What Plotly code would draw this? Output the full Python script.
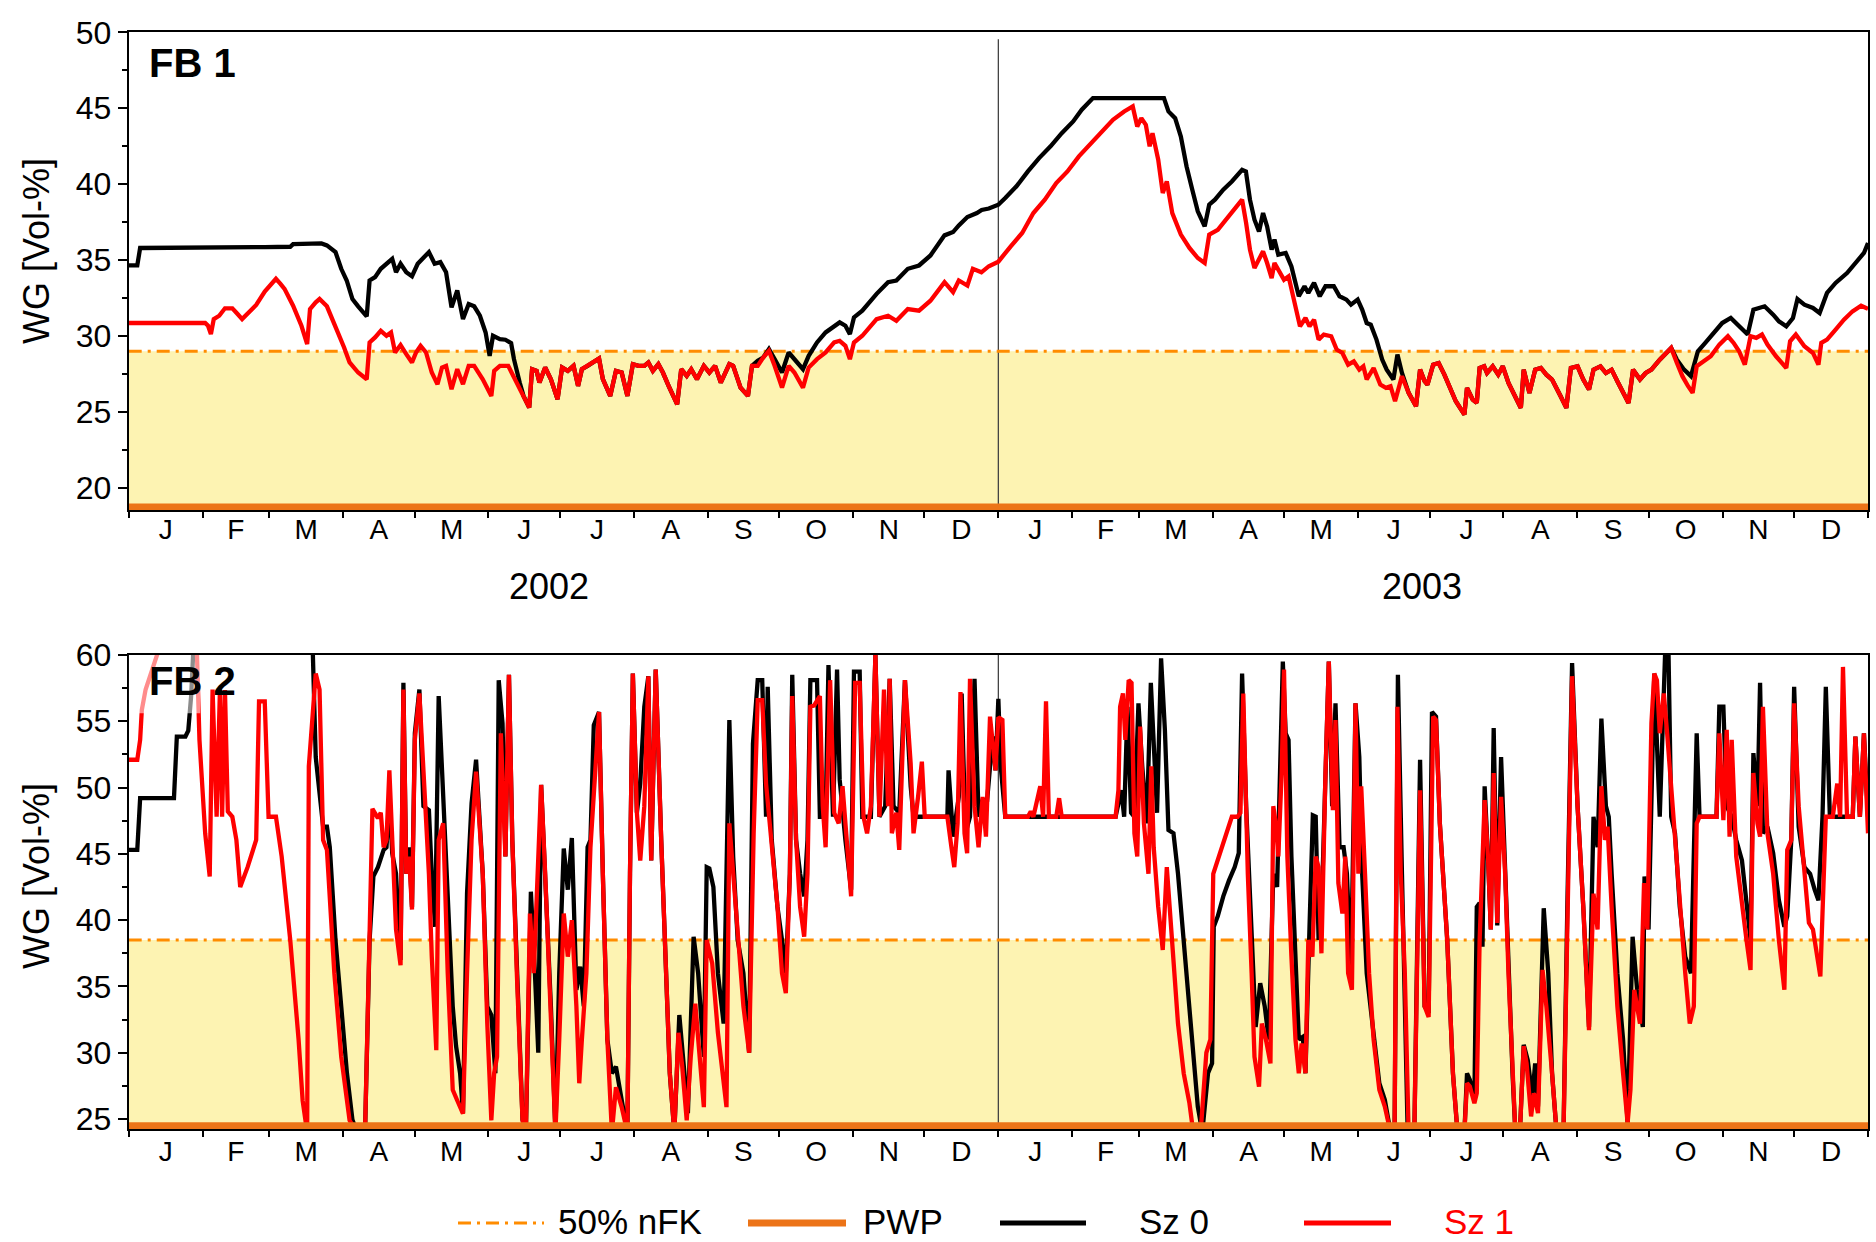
import plotly.graph_objects as go

# ---------------------------------------------------------------
# Soil water content (WG, Vol-%) for two soil profiles, 2002-2003
# x = day counted from 1 Jan 2002, y = WG [Vol-%]
# ---------------------------------------------------------------

MONTH_LETTERS = ["J", "F", "M", "A", "M", "J", "J", "A", "S", "O", "N", "D"]
MONTH_LENGTHS = [31, 28, 31, 30, 31, 30, 31, 31, 30, 31, 30, 31]
YEAR_LABELS = ["2002", "2003"]
PANEL_LABELS = ["FB 1", "FB 2"]
Y_TITLE = "WG [Vol-%]"
LEGEND_LABELS = ["50% nFK", "PWP", "Sz 0", "Sz 1"]

# thresholds per profile
FB1_PWP = 18.75
FB1_NFK50 = 29.0
FB2_PWP = 24.5
FB2_NFK50 = 38.5

# ---------------- FB 1 ----------------
fb1_sz0_spring02 = [
    (0, 34.65), (3.6, 34.65), (4.8, 35.8), (55.9, 35.8), (57.0, 35.86), (67.8, 35.88),
    (69.0, 36.05), (80.9, 36.1), (83.2, 35.97), (86.8, 35.53), (89.2, 34.43), (91.5, 33.66),
    (93.9, 32.44), (96.3, 31.96), (99.9, 31.3), (101.1, 33.66), (103.4, 33.88), (105.8, 34.43),
    (109.4, 34.98), (110.6, 35.09), (112.2, 34.2), (114.1, 34.76), (116.5, 34.2), (118.9, 33.94),
    (121.3, 34.76), (126.0, 35.53), (128.4, 34.76), (130.8, 34.87), (133.2, 34.2), (135.5, 31.89),
    (137.9, 33.0), (140.3, 31.12), (142.7, 32.11), (145.0, 31.96), (147.4, 31.34), (149.8, 30.24),
    (151.5, 28.7), (152.9, 30.02), (155.8, 29.8), (158.1, 29.76), (160.5, 29.54), (161.7, 28.48),
    (164.1, 26.94), (165.7, 26.06), (168.1, 25.29),
]
fb1_sz1_spring02 = [
    (0, 30.86), (32.1, 30.86), (33.3, 30.68), (34.5, 30.13), (35.7, 31.12), (38.0, 31.34),
    (40.4, 31.83), (43.5, 31.83), (45.7, 31.45), (47.6, 31.12), (51.1, 31.67), (53.5, 32.05),
    (57.1, 32.93), (59.4, 33.33), (61.8, 33.77), (63.7, 33.44), (65.4, 33.11), (69.0, 32.0),
    (72.5, 30.68), (74.9, 29.47), (76.1, 31.78), (78.5, 32.22), (80.1, 32.44), (83.2, 31.96),
    (86.8, 30.68), (90.4, 29.25), (92.7, 28.26), (96.3, 27.6), (99.9, 27.16), (101.1, 29.58),
    (103.4, 29.91), (105.8, 30.35), (108.2, 30.02), (110.1, 30.24), (111.8, 28.92), (114.1, 29.41),
    (116.5, 28.81), (118.9, 28.26), (120.6, 28.92), (122.5, 29.36), (124.8, 28.92), (127.2, 27.6),
    (129.6, 26.83), (131.5, 27.93), (133.2, 28.04), (135.5, 26.5), (137.9, 27.82), (140.3, 26.83),
    (142.7, 28.04), (145.0, 28.04), (148.6, 27.16), (152.2, 26.06), (153.4, 27.71), (155.8, 28.04),
    (159.3, 28.04), (162.9, 26.94), (165.7, 26.06), (168.1, 25.29),
]
# summer 2002: both scenarios coincide
fb1_both_summer02 = [
    (169.3, 27.82), (171.2, 27.71), (172.4, 26.94), (174.8, 27.93), (177.2, 27.16), (180.0, 25.84),
    (181.9, 27.93), (184.3, 27.71), (186.7, 28.04), (188.6, 26.72), (190.2, 27.82), (192.6, 28.04),
    (195.0, 28.26), (197.4, 28.52), (199.0, 27.16), (202.1, 26.06), (204.5, 27.71), (206.9, 27.6),
    (209.3, 26.06), (211.6, 28.15), (214.0, 28.04), (216.4, 28.04), (218.1, 28.26), (220.0, 27.71),
    (222.3, 28.15), (224.2, 27.6), (226.6, 26.72), (230.2, 25.51), (231.9, 27.82), (234.2, 27.38),
    (236.1, 27.82), (238.5, 27.16), (241.4, 28.04), (243.7, 27.6), (246.1, 28.04), (248.5, 26.94),
    (252.1, 28.15), (253.7, 28.04), (256.8, 26.61), (259.9, 26.06), (261.6, 28.04),
]
fb1_sz0_autumn02 = [
    (264.0, 28.37), (266.3, 28.59), (268.7, 29.14), (271.1, 28.48), (274.2, 27.6), (277.0, 28.92),
    (279.4, 28.48), (283.0, 27.82), (285.4, 28.7), (288.9, 29.58), (292.5, 30.24), (296.1, 30.68),
    (298.4, 30.9), (300.8, 30.68), (302.7, 30.13), (304.4, 31.23), (307.9, 31.67), (313.9, 32.78),
    (318.7, 33.55), (322.2, 33.66), (327.0, 34.43), (331.7, 34.65), (336.5, 35.31), (342.4, 36.63),
    (346.0, 36.85), (348.4, 37.29), (352.0, 37.84), (356.0, 38.1), (358.0, 38.3), (361.0, 38.4),
    (365.0, 38.65),
]
fb1_sz1_autumn02 = [
    (264.0, 28.04), (266.3, 28.59), (268.7, 29.03), (271.1, 28.04), (274.2, 26.61), (277.0, 28.04),
    (279.4, 27.6), (283.0, 26.61), (285.4, 27.93), (288.9, 28.48), (292.5, 28.92), (296.1, 29.58),
    (298.4, 29.69), (300.8, 29.36), (302.7, 28.48), (304.4, 29.58), (307.9, 30.02), (313.9, 31.12),
    (318.7, 31.34), (322.2, 31.01), (327.0, 31.78), (331.7, 31.67), (336.5, 32.33), (342.4, 33.55),
    (346.0, 32.89), (348.4, 33.66), (352.0, 33.33), (354.3, 34.43), (357.9, 34.2), (361.0, 34.6),
    (365.0, 34.9),
]
fb1_sz0_spring03 = [
    (367.9, 39.09), (372.6, 39.86), (377.4, 40.84), (382.1, 41.72), (386.9, 42.49),
    (391.6, 43.36), (396.4, 44.13), (400.0, 44.9), (404.7, 45.67), (434.5, 45.67), (436.4, 44.79),
    (439.2, 44.35), (441.6, 43.14), (444.0, 41.17), (446.4, 39.64), (448.7, 38.21), (451.6, 37.22),
    (453.5, 38.65), (455.9, 38.98), (459.4, 39.64), (463.0, 40.18), (467.3, 40.95), (468.9, 40.84),
    (470.6, 38.98), (472.5, 37.66), (474.4, 36.89), (476.1, 38.1), (477.8, 37.22), (479.7, 35.69),
    (480.9, 36.35), (482.5, 35.36), (485.6, 35.47), (488.0, 34.59), (491.1, 32.62), (493.5, 33.28),
    (495.1, 32.84), (497.5, 33.5), (499.9, 32.62), (502.3, 33.28), (505.8, 33.28), (508.2, 32.62),
    (511.1, 32.4), (513.0, 32.07), (515.8, 32.4), (517.7, 31.74), (519.6, 30.86), (521.3, 30.75),
    (523.7, 29.77), (526.1, 28.45), (528.0, 27.79), (530.8, 27.14), (532.5, 28.78), (534.4, 27.57),
]
fb1_sz1_spring03 = [
    (370.2, 35.91), (375.0, 36.79), (379.7, 38.1), (384.5, 38.98), (389.3, 40.07),
    (394.0, 40.84), (398.8, 41.83), (403.5, 42.6), (408.3, 43.47), (413.1, 44.24), (417.8, 44.79),
    (421.4, 45.12), (423.3, 43.8), (425.0, 44.35), (426.9, 43.91), (428.5, 42.49), (429.7, 43.36),
    (432.1, 41.61), (434.0, 39.42), (435.7, 40.18), (438.0, 38.1), (441.6, 36.68), (445.2, 35.8),
    (448.7, 35.14), (451.6, 34.81), (453.5, 36.68), (457.1, 37.0), (460.6, 37.66), (464.2, 38.32),
    (467.3, 38.98), (469.0, 37.44), (470.6, 35.69), (472.5, 34.48), (474.4, 35.03), (476.1, 35.58),
    (477.8, 34.81), (479.7, 33.82), (480.9, 34.81), (483.2, 34.15), (484.9, 33.71), (486.8, 33.93),
    (489.2, 32.4), (491.6, 30.64), (493.9, 31.19), (495.6, 30.64), (497.5, 31.08), (499.4, 29.77),
    (501.6, 30.1), (504.7, 29.99), (507.0, 29.11), (509.4, 28.89), (511.8, 28.12), (514.2, 28.34),
    (516.5, 27.79), (518.2, 28.01), (519.6, 27.14), (522.5, 27.9), (525.3, 26.81), (527.7, 26.59),
    (529.6, 26.7), (531.5, 25.71), (534.4, 27.36),
]
# summer 2003: both scenarios coincide
fb1_both_summer03 = [
    (537.2, 26.26), (540.3, 25.38), (542.0, 27.79), (543.9, 27.03), (545.1, 26.81), (547.5, 28.12),
    (549.8, 28.23), (552.2, 27.46), (554.6, 26.59), (557.0, 25.71), (560.6, 24.83), (561.7, 26.59),
    (564.1, 25.82), (565.8, 25.6), (567.0, 27.9), (568.9, 28.01), (570.1, 27.57), (572.5, 28.01),
    (574.8, 27.46), (576.7, 28.01), (579.1, 26.92), (582.0, 26.04), (584.3, 25.27), (585.5, 27.79),
    (587.9, 26.26), (590.3, 27.79), (592.7, 27.9), (595.0, 27.46), (597.4, 27.14), (601.0, 26.04),
    (603.4, 25.27), (605.3, 27.9), (608.1, 28.01), (610.5, 27.14), (612.9, 26.48), (614.8, 27.79),
    (617.7, 28.01), (620.0, 27.57), (622.4, 27.79), (624.8, 27.03), (627.2, 26.26), (629.5, 25.6),
    (631.4, 27.79), (634.3, 27.14), (636.7, 27.57), (639.1, 27.79), (642.6, 28.45), (647.4, 29.22),
]
fb1_sz0_autumn03 = [
    (649.8, 28.45), (652.8, 27.79), (655.7, 27.36), (658.6, 29.0), (661.7, 29.55), (665.2, 30.21),
    (668.8, 30.86), (672.4, 31.19), (675.9, 30.64), (679.5, 30.1), (681.9, 31.74), (684.3, 31.85),
    (686.6, 31.96), (690.2, 31.41), (692.6, 30.97), (695.7, 30.64), (698.5, 31.19), (700.4, 32.44),
    (703.3, 32.07), (706.9, 31.85), (709.7, 31.52), (712.8, 32.84), (716.4, 33.5), (721.2, 34.15),
    (724.7, 34.81), (728.3, 35.47), (730.0, 36.13),
]
fb1_sz1_autumn03 = [
    (649.8, 28.23), (652.1, 27.36), (654.5, 26.7), (656.4, 26.26), (658.1, 28.01), (661.7, 28.45),
    (664.0, 28.67), (667.6, 29.44), (671.2, 29.99), (673.6, 29.55), (675.9, 29.0), (678.3, 28.12),
    (680.7, 29.99), (683.1, 29.88), (685.5, 30.1), (687.8, 29.44), (691.4, 28.67), (695.7, 27.9),
    (697.3, 29.66), (699.7, 30.1), (703.3, 29.33), (706.9, 28.89), (709.2, 28.12), (710.4, 29.55),
    (712.8, 29.77), (716.4, 30.43), (719.9, 31.08), (723.5, 31.63), (727.1, 32.0), (730.0, 31.79),
]

# ---------------- FB 2 ----------------
fb2_sz0_2002 = [
    (0, 45.3), (3.6, 45.3), (4.8, 49.2), (19.0, 49.2), (20.2, 53.85), (23.8, 53.85), (25.0, 54.3),
    (26.2, 56.9), (27.3, 61), (76.1, 61), (77.3, 60.0), (78.5, 52.3), (81.6, 47.05), (83.2, 47.05),
    (84.4, 45.5), (86.8, 38.5), (89.2, 33.5), (91.6, 28.45), (93.9, 24.95), (95.8, 24.0), (99.2, 24.0),
    (101.1, 38.5), (102.7, 43.3), (104.6, 44.0), (107.0, 45.3), (108.2, 45.5), (109.4, 49.3),
    (110.6, 45.05), (112.2, 43.5), (114.1, 37.0), (115.3, 57.9), (116.5, 43.5), (117.7, 45.5),
    (118.9, 41.0), (120.1, 54.1), (122.0, 57.4), (123.7, 48.6), (126.0, 48.3), (127.2, 43.5),
    (128.6, 39.5), (130.1, 56.9), (132.0, 48.8), (133.9, 41.0), (136.0, 33.5), (137.4, 30.5),
    (139.1, 28.45), (140.3, 25.45), (142.0, 42.0), (143.9, 48.8), (145.8, 52.1), (148.6, 43.5),
    (150.5, 33.5), (152.2, 32.85), (153.9, 28.45), (155.3, 58.1), (156.9, 54.85), (158.1, 44.8),
    (159.6, 58.5), (161.0, 46.05), (162.9, 36.0), (165.3, 24.95), (166.7, 24.0), (168.8, 42.15),
    (170.5, 36.0), (171.9, 30.0), (173.1, 50.2), (174.8, 43.5), (177.2, 33.5), (179.1, 24.0),
    (180.7, 36.0), (182.6, 45.4), (184.3, 42.3), (186.0, 46.2), (187.9, 34.75), (189.5, 36.5),
    (191.0, 33.5), (192.6, 45.5), (193.8, 46.05), (195.2, 54.7), (197.4, 55.7), (199.0, 43.5),
    (200.9, 31.0), (202.8, 28.45), (204.5, 28.95), (206.9, 26.45), (209.3, 24.0), (210.4, 43.5),
    (211.6, 58.6), (213.3, 48.1), (214.7, 50.3), (216.4, 56.1), (218.1, 58.4), (219.3, 44.5),
    (221.2, 58.9), (223.5, 46.05), (225.2, 38.5), (227.1, 28.45), (229.0, 24.0), (231.1, 32.85),
    (233.0, 28.95), (234.7, 25.45), (237.1, 38.75), (239.0, 36.0), (241.4, 29.7), (242.6, 44.0),
    (243.7, 43.9), (245.4, 42.5), (247.3, 36.0), (249.7, 32.2), (252.1, 55.1), (253.7, 44.8),
    (255.6, 38.5), (258.0, 36.0), (260.4, 30.0), (262.0, 53.3), (264.0, 58.1), (265.9, 58.1),
    (267.5, 47.8), (268.2, 57.6), (269.9, 46.05), (272.3, 41.0), (274.2, 38.5), (275.8, 36.0),
    (277.5, 43.5), (278.5, 58.5), (280.1, 46.05), (281.8, 43.5), (283.5, 41.8), (284.9, 46.05),
    (286.1, 58.1), (288.9, 58.1), (290.1, 47.8), (292.5, 47.8), (293.7, 59.25), (295.6, 47.8),
    (297.3, 58.9), (298.4, 50.6), (300.8, 46.05), (303.2, 42.3), (304.4, 58.75), (306.8, 58.75),
    (307.9, 47.8), (311.5, 47.8), (313.4, 60.0), (315.1, 47.8), (317.5, 48.6), (319.4, 58.2),
    (321.0, 48.6), (323.4, 48.1), (325.8, 58.1), (328.2, 50.1), (329.4, 47.8), (343.6, 47.8),
    (344.1, 51.3), (346.0, 46.3), (348.4, 49.3), (349.6, 57.1), (351.2, 46.55), (353.1, 47.8),
    (355.0, 58.2), (356.7, 47.8), (358.4, 49.05), (360.3, 49.05), (362.6, 53.85), (363.8, 51.3),
    (365.0, 56.7),
]
fb2_sz1_2002 = [
    (0, 52.1), (3.6, 52.1), (4.8, 53.6), (5.5, 55.85), (7.1, 57.4), (9.5, 58.6), (11.9, 60.0),
    (13.1, 61), (28.5, 61), (29.7, 53.6), (32.1, 46.55), (34.0, 43.3), (35.2, 57.4), (36.9, 47.8),
    (38.3, 57.4), (39.2, 47.8), (40.4, 57.35), (41.6, 48.2), (43.5, 47.8), (45.2, 46.05), (46.8, 42.5),
    (49.9, 44.0), (53.5, 46.05), (54.7, 56.5), (57.1, 56.5), (58.7, 47.8), (61.8, 47.8), (64.2, 44.8),
    (67.8, 38.5), (71.3, 31.0), (73.0, 26.4), (74.9, 24.0), (75.6, 51.6), (78.5, 58.6), (80.1, 57.4),
    (81.6, 46.05), (83.2, 45.3), (86.3, 36.0), (89.2, 29.7), (92.7, 24.9), (95.8, 24.0), (99.2, 24.0),
    (101.1, 38.5), (102.3, 48.4), (104.6, 47.7), (105.8, 48.1), (107.0, 45.5), (108.2, 46.05),
    (109.4, 51.3), (110.6, 45.5), (112.2, 39.3), (114.1, 36.6), (115.3, 57.4), (116.5, 43.5),
    (117.7, 44.8), (118.9, 40.8), (120.1, 53.6), (122.0, 57.1), (123.7, 51.1), (126.0, 43.5),
    (127.2, 37.25), (129.1, 30.2), (130.1, 46.05), (132.0, 47.3), (133.9, 36.0), (136.0, 27.2),
    (137.9, 26.4), (140.3, 25.4), (142.0, 36.0), (143.9, 46.05), (145.8, 51.2), (148.6, 43.5),
    (150.5, 32.2), (152.2, 24.9), (153.4, 28.5), (154.6, 29.7), (156.2, 54.1), (158.1, 44.8),
    (159.6, 58.5), (161.0, 46.05), (162.9, 36.0), (165.3, 24.9), (166.7, 24.0), (168.4, 40.5),
    (170.0, 36.0), (173.1, 50.2), (174.8, 43.5), (177.2, 33.5), (179.1, 24.0), (180.7, 31.0),
    (182.6, 40.5), (184.3, 37.25), (186.0, 40.0), (187.9, 33.5), (189.1, 27.7), (190.2, 31.0),
    (192.1, 36.0), (193.8, 45.5), (195.2, 49.8), (197.4, 55.7), (199.0, 43.5), (200.9, 31.0),
    (202.8, 24.0), (204.5, 27.4), (206.9, 25.9), (209.3, 24.0), (210.4, 43.5), (211.6, 58.6),
    (213.3, 48.1), (214.7, 44.5), (216.4, 48.6), (218.1, 58.4), (219.3, 44.5), (221.2, 58.9),
    (223.5, 46.05), (225.2, 38.5), (227.1, 28.5), (229.0, 24.0), (230.7, 31.5), (232.3, 29.0),
    (234.2, 24.9), (235.9, 29.7), (237.8, 33.7), (239.5, 30.0), (241.4, 25.9), (242.6, 38.5),
    (244.9, 36.75), (247.3, 31.5), (249.0, 28.5), (250.9, 25.9), (252.1, 47.3), (253.7, 43.5),
    (255.6, 38.5), (258.0, 33.5), (260.4, 30.0), (262.3, 46.55), (264.0, 56.6), (265.9, 56.6),
    (267.5, 50.3), (269.9, 46.05), (272.3, 41.0), (274.2, 36.0), (275.8, 34.5), (277.5, 43.5),
    (278.5, 56.9), (280.1, 46.05), (281.8, 41.0), (283.5, 38.75), (284.9, 43.5), (286.1, 56.1),
    (287.7, 56.2), (290.1, 56.9), (291.3, 48.6), (292.5, 45.5), (294.4, 58.1), (296.1, 48.1),
    (298.0, 47.3), (299.6, 50.1), (301.3, 46.05), (303.2, 41.8), (304.9, 57.9), (306.8, 57.9),
    (308.4, 47.8), (309.9, 46.55), (311.5, 48.6), (313.4, 60.0), (315.1, 47.8), (317.0, 57.4),
    (318.7, 48.6), (319.4, 58.2), (320.3, 46.55), (322.2, 48.1), (323.4, 45.3), (325.8, 58.1),
    (328.2, 51.8), (329.4, 46.55), (331.3, 49.3), (332.9, 51.95), (334.1, 47.8), (343.6, 47.8),
    (345.3, 45.5), (346.5, 44.0), (347.9, 47.3), (349.1, 57.2), (350.8, 46.55), (351.9, 45.05),
    (353.1, 58.2), (355.0, 48.6), (356.7, 45.5), (358.4, 49.3), (359.8, 46.3), (361.5, 55.35),
    (363.8, 51.3), (365.0, 55.3),
]
fb2_sz0_2003 = [
    (366.0, 51.6), (367.9, 47.8), (414.2, 47.8), (416.6, 49.8), (417.8, 47.8), (419.2, 56.1),
    (420.7, 48.1), (422.1, 47.8), (423.8, 56.35), (425.4, 51.6), (427.3, 47.3), (429.0, 57.9),
    (430.4, 51.6), (431.6, 48.1), (433.3, 59.75), (434.9, 54.35), (436.4, 46.8), (438.5, 46.55),
    (440.4, 43.5), (442.8, 38.5), (445.2, 33.5), (446.8, 29.7), (448.7, 25.95), (450.6, 24.0),
    (453.0, 28.45), (454.7, 29.2), (455.4, 39.5), (457.1, 40.3), (459.4, 41.8), (461.8, 43.0),
    (464.2, 44.0), (465.9, 45.05), (467.3, 58.6), (469.0, 48.6), (471.3, 38.5), (473.0, 31.95),
    (474.9, 35.25), (476.8, 33.5), (478.5, 31.0), (480.4, 43.5), (482.0, 42.5), (483.2, 49.8),
    (484.4, 59.5), (485.6, 54.1), (486.8, 53.6), (488.0, 44.8), (489.7, 36.0), (491.1, 31.0),
    (492.8, 31.2), (493.9, 28.45), (495.6, 39.5), (497.0, 47.9), (498.2, 47.8), (499.4, 38.5),
    (501.1, 43.5), (502.3, 51.1), (503.7, 59.5), (505.1, 48.6), (506.5, 56.35), (508.2, 45.5),
    (509.9, 45.5), (511.3, 43.5), (513.0, 36.0), (514.9, 56.35), (516.5, 52.3), (517.7, 43.5),
    (519.6, 36.0), (522.0, 32.2), (524.9, 27.7), (527.2, 26.45), (529.6, 24.0), (531.3, 24.0),
    (532.7, 58.5), (534.4, 43.5), (536.8, 24.0), (539.6, 24.0), (542.0, 52.1), (543.9, 33.5),
    (545.6, 33.0), (547.0, 55.7), (548.7, 55.35), (550.3, 47.3), (553.4, 38.5), (555.8, 28.45),
    (557.7, 24.0), (560.6, 24.0), (561.7, 28.45), (562.9, 27.95), (564.8, 26.45), (565.8, 41.0),
    (567.0, 41.3), (568.2, 38.0), (569.1, 50.1), (570.5, 44.8), (571.7, 39.3), (572.9, 54.5),
    (574.4, 39.6), (576.0, 52.3), (577.7, 43.5), (579.1, 36.0), (580.8, 28.45), (582.0, 24.0),
    (583.9, 24.0), (585.5, 30.6), (587.2, 29.45), (589.1, 26.7), (590.3, 29.2), (591.5, 25.95),
    (593.9, 40.9), (595.8, 36.0), (597.4, 28.45), (599.3, 24.0), (602.2, 24.0), (603.8, 41.0),
    (605.8, 59.4), (608.1, 48.6), (610.5, 41.0), (612.9, 31.95), (614.8, 47.8), (616.5, 45.5),
    (618.1, 55.2), (620.0, 48.6), (621.2, 47.8), (622.4, 43.5), (624.8, 36.0), (627.2, 31.0),
    (629.1, 24.7), (631.2, 38.75), (633.1, 34.75), (635.5, 31.95), (636.2, 43.3), (637.9, 39.3),
    (640.3, 58.6), (642.6, 47.8), (645.0, 61), (646.2, 61), (647.4, 47.8), (649.0, 46.55),
    (651.0, 41.0), (653.3, 37.25), (655.7, 36.0), (658.1, 54.1), (659.3, 47.8), (666.4, 47.8),
    (667.6, 56.1), (669.3, 56.1), (670.7, 48.6), (672.8, 47.8), (674.7, 46.05), (677.1, 44.5),
    (679.0, 41.0), (680.7, 38.5), (681.9, 52.6), (683.6, 48.6), (684.7, 57.9), (685.9, 46.55),
    (687.8, 47.05), (690.2, 45.05), (692.6, 41.5), (694.9, 39.5), (696.1, 40.3), (697.8, 46.05),
    (699.0, 57.6), (700.9, 47.05), (703.3, 44.0), (705.7, 43.5), (707.6, 42.3), (709.2, 41.5),
    (710.9, 47.8), (712.3, 57.6), (714.0, 47.8), (721.2, 47.8), (723.6, 47.8), (724.7, 53.85),
    (726.6, 47.8), (728.3, 54.1), (730.0, 47.8),
]
fb2_sz1_2003 = [
    (366.7, 55.1), (367.9, 47.8), (377.4, 47.8), (378.6, 48.2), (379.7, 47.8), (382.6, 50.1),
    (383.8, 47.8), (385.0, 56.5), (386.2, 47.8), (389.3, 47.8), (390.5, 49.2), (391.6, 47.8),
    (414.2, 47.8), (415.4, 49.8), (416.1, 56.1), (417.3, 57.1), (418.3, 53.6), (419.7, 58.1),
    (420.9, 57.9), (422.1, 46.55), (423.3, 44.8), (424.5, 54.6), (426.1, 47.3), (428.0, 43.5),
    (429.2, 51.6), (430.2, 45.5), (432.1, 41.0), (434.0, 37.75), (435.7, 44.0), (438.0, 38.5),
    (440.4, 32.2), (442.8, 28.45), (445.2, 26.2), (446.8, 24.0), (449.9, 24.0), (452.3, 30.0),
    (454.0, 31.0), (455.2, 43.5), (457.1, 44.5), (458.3, 45.3), (460.6, 46.3), (463.0, 47.8),
    (465.4, 47.8), (466.6, 48.1), (467.8, 57.1), (469.7, 43.5), (471.3, 36.0), (472.5, 29.7),
    (474.4, 27.45), (475.6, 32.2), (477.3, 31.0), (479.2, 29.2), (480.4, 48.6), (481.6, 47.05),
    (482.5, 44.8), (483.9, 51.1), (484.9, 58.9), (486.3, 44.8), (488.0, 37.25), (489.7, 31.0),
    (491.1, 28.45), (492.3, 30.7), (493.9, 28.45), (495.1, 38.5), (496.8, 37.25), (498.2, 44.8),
    (499.4, 44.0), (500.6, 37.5), (502.3, 51.1), (503.7, 59.5), (505.4, 48.3), (506.5, 55.1),
    (507.7, 42.8), (509.4, 40.5), (510.6, 44.8), (511.8, 36.0), (513.4, 34.75), (514.9, 56.35),
    (516.1, 43.5), (517.3, 50.1), (518.9, 43.5), (520.6, 36.0), (522.5, 31.0), (524.9, 27.2),
    (527.2, 25.95), (529.6, 24.0), (531.3, 24.0), (532.5, 56.1), (533.9, 43.5), (535.6, 36.0),
    (537.2, 24.0), (539.6, 24.0), (542.0, 49.8), (543.9, 33.5), (545.6, 32.7), (547.5, 55.35),
    (548.7, 55.1), (550.3, 47.3), (553.4, 38.5), (555.8, 28.45), (557.7, 24.0), (560.6, 24.0),
    (561.7, 27.7), (562.9, 27.45), (564.8, 26.2), (565.8, 26.95), (567.0, 38.5), (567.7, 42.8),
    (569.1, 49.05), (570.5, 44.8), (571.7, 39.3), (572.9, 51.1), (574.4, 39.8), (576.0, 49.3),
    (577.7, 43.5), (579.1, 36.0), (580.8, 28.45), (582.0, 24.0), (583.9, 24.0), (585.5, 30.5),
    (586.7, 29.2), (588.6, 25.2), (589.8, 26.95), (591.5, 25.45), (593.4, 36.25), (595.0, 33.5),
    (597.4, 28.45), (599.3, 24.0), (602.2, 24.0), (603.8, 41.0), (605.8, 58.4), (608.1, 48.6),
    (610.5, 41.0), (612.9, 31.7), (614.8, 42.0), (616.5, 39.3), (618.1, 50.1), (619.6, 46.05),
    (620.7, 47.05), (622.4, 41.0), (624.8, 33.5), (627.2, 28.45), (629.1, 24.7), (630.3, 27.2),
    (631.9, 34.75), (634.3, 32.2), (636.0, 42.8), (637.4, 39.3), (639.1, 54.85), (640.3, 58.6),
    (641.4, 58.1), (642.6, 54.1), (644.3, 57.1), (645.7, 54.1), (648.6, 46.8), (651.0, 41.0),
    (653.3, 36.0), (655.2, 32.2), (656.9, 33.5), (658.1, 47.3), (659.3, 47.8), (666.4, 47.8),
    (667.6, 54.1), (669.3, 47.55), (670.7, 54.35), (671.9, 46.3), (672.8, 53.6), (674.7, 44.8),
    (677.1, 41.0), (679.0, 38.5), (680.7, 36.25), (681.9, 51.1), (683.6, 47.3), (684.7, 46.3),
    (685.9, 56.1), (687.8, 46.55), (690.2, 43.5), (692.6, 38.5), (694.9, 34.75), (696.1, 45.3),
    (697.8, 46.05), (699.0, 56.35), (700.9, 48.6), (703.3, 43.5), (705.2, 39.8), (706.9, 39.3),
    (708.5, 37.25), (710.0, 35.75), (710.9, 40.5), (712.3, 47.8), (715.2, 47.8), (717.1, 50.3),
    (718.3, 47.8), (719.5, 59.1), (721.2, 47.8), (723.6, 47.8), (724.7, 53.85), (726.6, 47.8),
    (728.3, 54.1), (730.0, 46.55),
]

# ---------------- assemble series ----------------
fb1_sz0 = fb1_sz0_spring02 + fb1_both_summer02 + fb1_sz0_autumn02 + fb1_sz0_spring03 + fb1_both_summer03 + fb1_sz0_autumn03
fb1_sz1 = fb1_sz1_spring02 + fb1_both_summer02 + fb1_sz1_autumn02 + fb1_sz1_spring03 + fb1_both_summer03 + fb1_sz1_autumn03
fb2_sz0 = fb2_sz0_2002 + fb2_sz0_2003
fb2_sz1 = fb2_sz1_2002 + fb2_sz1_2003


def split(pairs):
    return [p[0] for p in pairs], [p[1] for p in pairs]


# ---------------- styling ----------------
FONT = "Arial, 'Liberation Sans', sans-serif"
C_SZ0 = "#000000"
C_SZ1 = "#FF0000"
C_PWP = "#EC7418"
C_NFK = "#FF8C00"
C_FILL = "#FDF3B2"
W = 1876
H = 1242
LINE_W = 4.3
NFK_DASH = "13px,6px,3px,6px"

X_END = 730
month_starts = [0]
for yr in range(2):
    for m in MONTH_LENGTHS:
        month_starts.append(month_starts[-1] + m)
month_mids = [(month_starts[i] + month_starts[i + 1]) / 2 for i in range(24)]
month_text = MONTH_LETTERS * 2

X_DOMAIN = [128.7 / W, 1868 / W]
panels = [
    dict(xa="x", ya="y", yr=[18.55, 50], dom=[(H - 510) / H, (H - 32.3) / H],
         pwp=FB1_PWP, nfk=FB1_NFK50, sz0=fb1_sz0, sz1=fb1_sz1, ytick0=20, xstand=-7),
    dict(xa="x2", ya="y2", yr=[24.25, 60], dom=[(H - 1129) / H, (H - 655) / H],
         pwp=FB2_PWP, nfk=FB2_NFK50, sz0=fb2_sz0, sz1=fb2_sz1, ytick0=25, xstand=-4),
]

fig = go.Figure()
shapes = []
annotations = []

for i, p in enumerate(panels):
    xa, ya = p["xa"], p["ya"]
    # band between wilting point and 50 % usable field capacity
    shapes.append(dict(type="rect", xref=xa, yref=ya, x0=0, x1=X_END, y0=p["pwp"], y1=p["nfk"],
                       fillcolor=C_FILL, line=dict(width=0), layer="below"))
    # year separator
    shapes.append(dict(type="line", xref=xa, yref=ya, x0=365, x1=365,
                       y0=p["yr"][0], y1=p["yr"][1] - (0.45 if i == 0 else 0),
                       line=dict(color="#444444", width=1.3), layer="below"))

    fig.add_trace(go.Scatter(x=[0, X_END], y=[p["nfk"], p["nfk"]], xaxis=xa, yaxis=ya,
                             mode="lines", line=dict(color=C_NFK, width=3, dash=NFK_DASH),
                             hoverinfo="skip"))
    x0s, y0s = split(p["sz0"])
    fig.add_trace(go.Scatter(x=x0s, y=y0s, xaxis=xa, yaxis=ya, mode="lines",
                             line=dict(color=C_SZ0, width=LINE_W)))
    x1s, y1s = split(p["sz1"])
    fig.add_trace(go.Scatter(x=x1s, y=y1s, xaxis=xa, yaxis=ya, mode="lines",
                             line=dict(color=C_SZ1, width=LINE_W)))
    fig.add_trace(go.Scatter(x=[0, X_END], y=[p["pwp"], p["pwp"]], xaxis=xa, yaxis=ya,
                             mode="lines", line=dict(color=C_PWP, width=7), hoverinfo="skip"))

    # panel label
    annotations.append(dict(text="<b>%s</b>" % PANEL_LABELS[i], xref="paper", yref="paper",
                            x=147 / W, y=(H - (63 if i == 0 else 681)) / H,
                            xanchor="left", yanchor="middle", showarrow=False,
                            font=dict(family=FONT, size=40, color="black")))
    # y-axis title
    annotations.append(dict(text=Y_TITLE, xref="paper", yref="paper", x=36 / W,
                            y=(H - (251 if i == 0 else 876)) / H, textangle=-90,
                            xanchor="center", yanchor="middle", showarrow=False,
                            font=dict(family=FONT, size=36, color="black")))

    axis_key = "xaxis" if i == 0 else "xaxis2"
    yaxis_key = "yaxis" if i == 0 else "yaxis2"
    fig.update_layout(**{
        axis_key: dict(domain=X_DOMAIN, range=[0, X_END], anchor=ya, showgrid=False, zeroline=False,
                       showline=True, linecolor="black", linewidth=2, mirror=True,
                       tickmode="array", tickvals=month_mids, ticktext=month_text, ticks="",
                       ticklabelstandoff=p["xstand"],
                       tickfont=dict(family=FONT, size=28, color="black"),
                       minor=dict(tickmode="array", tickvals=month_starts, ticks="outside",
                                  ticklen=6, tickwidth=1.5, tickcolor="black")),
        yaxis_key: dict(domain=p["dom"], range=p["yr"], anchor=xa, showgrid=False, zeroline=False,
                        showline=True, linecolor="black", linewidth=2, mirror=True,
                        tick0=p["ytick0"], dtick=5, ticks="outside", ticklen=9, tickwidth=2,
                        tickcolor="black", ticklabelstandoff=0,
                        tickfont=dict(family=FONT, size=32, color="black"),
                        minor=dict(tick0=0, dtick=2.5, ticks="outside", ticklen=5,
                                   tickwidth=1.5, tickcolor="black")),
    })

# faded box behind the FB 2 label
shapes.append(dict(type="rect", xref="x2", yref="y2", x0=0, x1=30, y0=55.6, y1=60,
                   fillcolor="rgba(255,255,255,0.55)", line=dict(width=0), layer="above"))

# year labels under the upper panel
for j, lab in enumerate(YEAR_LABELS):
    annotations.append(dict(text=lab, xref="x", yref="paper", x=176.5 + 366.5 * j,
                            y=(H - 586) / H, xanchor="center", yanchor="middle",
                            showarrow=False, font=dict(family=FONT, size=36, color="black")))

# legend row
LEG_Y = (H - 1221) / H
legend_items = [
    (458, 544, C_NFK, 3, NFK_DASH, 556, "black"),
    (748, 846, C_PWP, 7, "solid", 861, "black"),
    (1000, 1086, C_SZ0, 5, "solid", 1137, "black"),
    (1304, 1391, C_SZ1, 5, "solid", 1442, C_SZ1),
]
for (lx0, lx1, col, lw, dash, tx, tcol), lab in zip(legend_items, LEGEND_LABELS):
    shapes.append(dict(type="line", xref="paper", yref="paper", x0=lx0 / W, x1=lx1 / W,
                       y0=(H - 1223) / H, y1=(H - 1223) / H, line=dict(color=col, width=lw, dash=dash)))
    annotations.append(dict(text=lab, xref="paper", yref="paper", x=tx / W, y=LEG_Y,
                            xanchor="left", yanchor="middle", showarrow=False,
                            font=dict(family=FONT, size=35, color=tcol)))

fig.update_layout(
    width=W, height=H, template="none",
    margin=dict(l=0, r=0, t=0, b=0, autoexpand=False),
    paper_bgcolor="white", plot_bgcolor="white",
    showlegend=False, shapes=shapes, annotations=annotations,
    font=dict(family=FONT, color="black"),
)

fig.write_html("out.html")
